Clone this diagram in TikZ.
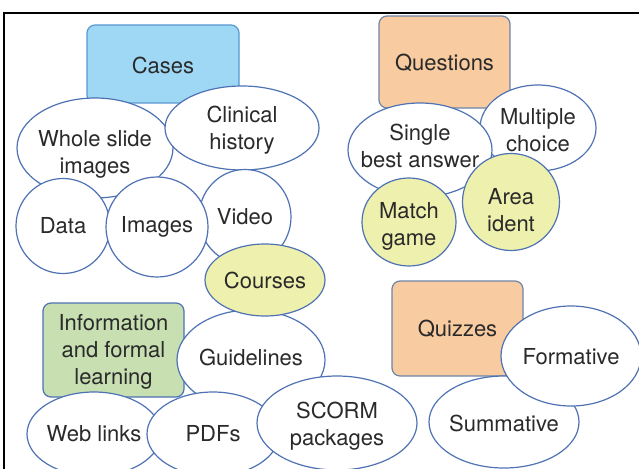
\documentclass[tikz,border=0pt]{standalone}
\usepackage{fontspec}
\setmainfont{TeX Gyre Heros}
\usetikzlibrary{shapes.geometric}
\definecolor{edgeblue}{HTML}{4F72B4}
\definecolor{casefill}{HTML}{9FD8F5}
\definecolor{caseedge}{HTML}{5A98CF}
\definecolor{qfill}{HTML}{F8CBA0}
\definecolor{qedge}{HTML}{6E85A8}
\definecolor{yfill}{HTML}{EEF0AE}
\definecolor{gfill}{HTML}{C7DFB1}
\definecolor{txt}{HTML}{2A2A2A}
\begin{document}
\begin{tikzpicture}[x=1pt,y=-1pt,
  every node/.style={font=\fontsize{22}{27}\selectfont, text=txt, align=center, inner sep=0pt},
  ell/.style={ellipse, draw=edgeblue, line width=1.2pt, fill=white},
  yell/.style={ellipse, draw=edgeblue, line width=1.2pt, fill=yfill},
  box/.style={rectangle, rounded corners=8pt, line width=1.2pt}]
\useasboundingbox (0,0) rectangle (639,468);
\fill[white] (0,0) rectangle (639,468);
\draw[line width=1.5pt] (4,470) -- (4,13) -- (641,13);
% Cases cluster
\node[box, draw=caseedge, fill=casefill, minimum width=152pt, minimum height=78pt] (cases) at (163,64) {};
\node (casest) at (163,65) {Cases};
\node[ell, minimum width=156pt, minimum height=100pt] (wsi) at (95,148) {};
\node (wsit) at (95,154) {Whole slide\\images};
\node[ell, minimum width=154pt, minimum height=84pt] (clin) at (242,128) {};
\node (clint) at (242,130) {Clinical\\history};
\node[ell, minimum width=94pt, minimum height=95pt] (data) at (63,226) {Data};
\node[ell, minimum width=92pt, minimum height=95pt] (video) at (245,217) {Video};
\node[ell, minimum width=98pt, minimum height=100pt] (images) at (157,227) {Images};
% Info cluster
\node[box, draw=edgeblue, fill=gfill, minimum width=141pt, minimum height=94pt] (info) at (113.5,350) {};
\node (infot) at (113.5,352) {Information\\and formal\\learning};
\node[ell, minimum width=148pt, minimum height=100pt] (guide) at (251,360) {};
\node (guidet) at (251,357) {Guidelines};
\node[yell, minimum width=120pt, minimum height=72pt] (courses) at (265,280) {Courses};
\node[ell, minimum width=134pt, minimum height=84pt] (web) at (94,434) {Web links};
\node[ell, minimum width=132pt, minimum height=84pt] (pdf) at (213,434) {PDFs};
\node[ell, minimum width=160pt, minimum height=94pt] (scorm) at (337,423) {};
\node (scormt) at (337,426) {SCORM\\packages};
% Questions cluster
\node[box, draw=qedge, fill=qfill, minimum width=131pt, minimum height=92pt] (quest) at (444.5,62) {};
\node (questt) at (444.5,63) {Questions};
\node[ell, minimum width=116pt, minimum height=86pt] (mult) at (538,128) {};
\node (multt) at (538,130) {Multiple\\choice};
\node[ell, minimum width=144pt, minimum height=94pt] (single) at (420,150) {};
\node (singlet) at (420,146) {Single\\best answer};
\node[yell, minimum width=94pt, minimum height=88pt] (match) at (409,222) {};
\node (matcht) at (409,226) {Match\\game};
\node[yell, minimum width=97pt, minimum height=97pt] (area) at (511,202) {};
\node (areat) at (511,210) {Area\\ident};
% Quizzes cluster
\node[box, draw=qedge, fill=qfill, minimum width=131pt, minimum height=95pt] (quiz) at (457.5,328.5) {};
\node (quizt) at (457.5,329) {Quizzes};
\node[ell, minimum width=150pt, minimum height=92pt] (summ) at (504,422) {};
\node (summt) at (504,423) {Summative};
\node[ell, minimum width=140pt, minimum height=100pt] (form) at (571,356) {};
\node (formt) at (571,357) {Formative};
\end{tikzpicture}
\end{document}
